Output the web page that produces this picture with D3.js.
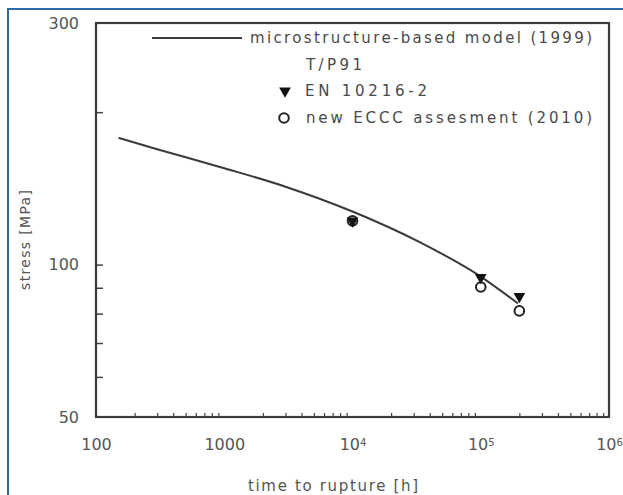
<!DOCTYPE html>
<html>
<head>
<meta charset="utf-8">
<script src="https://cdn.jsdelivr.net/npm/d3@7"></script>
<style>
  body { margin: 0; background: #fff; }
  svg { display: block; }
  text { font-family: "DejaVu Sans", "Liberation Sans", Arial, sans-serif; fill: #4a4a4a; }
</style>
</head>
<body>
<div id="chart"></div>
<script>
// model curve
const modelTime = [150, 300, 1000, 3000, 10000, 34000, 100000, 195000];
const modelStress = [178, 169, 155, 142.5, 127.3, 110.5, 94.7, 83.8];

// EN 10216-2 (filled triangles)
const enTime = [10000, 100000, 200000];
const enStress = [122, 94.3, 86.5];

// new ECCC assesment (open circles)
const ecccTime = [10000, 100000, 200000];
const ecccStress = [122, 90.3, 81];

const xTickValues = [100, 1000, 10000, 100000, 1000000];
const yTickLabels = [50, 100, 300];
const yMinorTicks = [60, 70, 80, 90, 100, 200];

const width = 623, height = 495;
const mLeft = 96, mRight = 609, mTop = 23, mBottom = 417;

const svg = d3.select("#chart").append("svg")
    .attr("width", width)
    .attr("height", height);

// blue frame of the figure box
svg.append("path")
    .attr("d", "M8,495 L8,9 L623,9")
    .attr("fill", "none")
    .attr("stroke", "#2b6fa6")
    .attr("stroke-width", 2);

let x = d3.scaleLog().domain([100, 1e6]).range([mLeft, mRight]);
let y = d3.scaleLog().domain([50, 300]).range([mBottom, mTop]);

// minor x ticks (inside)
let xMinor = [];
for (let dec = 100; dec < 1e6; dec *= 10) {
    for (let k = 2; k <= 9; k++) xMinor.push(dec * k);
}

let xAxis = svg.append("g")
    .attr("transform", "translate(0," + mBottom + ")")
    .call(d3.axisBottom(x).tickValues(xMinor).tickSize(-4).tickFormat(""));
xAxis.select(".domain").remove();
xAxis.selectAll("line").attr("stroke", "#444").attr("stroke-width", 1.2);

let xLabels = svg.append("g")
    .attr("transform", "translate(0," + mBottom + ")")
    .call(d3.axisBottom(x).tickValues(xTickValues).tickSize(0).tickPadding(22)
        .tickFormat(d => d));
xLabels.select(".domain").remove();
xLabels.selectAll("text")
    .style("font-size", "16px")
    .style("fill", "#555")
    .each(function (d) {
        let t = d3.select(this);
        if (d >= 10000) {
            t.text("10");
            t.append("tspan")
                .attr("dy", "-0.45em")
                .style("font-size", "10px")
                .text(Math.round(Math.log10(d)));
        }
    });

let yAxis = svg.append("g")
    .attr("transform", "translate(" + mLeft + ",0)")
    .call(d3.axisLeft(y).tickValues(yMinorTicks).tickSize(-7).tickFormat(""));
yAxis.select(".domain").remove();
yAxis.selectAll("line").attr("stroke", "#444").attr("stroke-width", 1.5);

let yLabels = svg.append("g")
    .attr("transform", "translate(" + mLeft + ",0)")
    .call(d3.axisLeft(y).tickValues(yTickLabels).tickSize(0).tickPadding(17).tickFormat(d => d));
yLabels.select(".domain").remove();
yLabels.selectAll("text")
    .style("font-size", "16px")
    .style("fill", "#555");

// plot frame
svg.append("rect")
    .attr("x", mLeft)
    .attr("y", mTop)
    .attr("width", mRight - mLeft)
    .attr("height", mBottom - mTop)
    .attr("fill", "none")
    .attr("stroke", "#3a3a3a")
    .attr("stroke-width", 2.2);

// axis titles
svg.append("text")
    .attr("x", 333)
    .attr("y", 491)
    .attr("text-anchor", "middle")
    .style("font-size", "15px")
    .style("fill", "#555")
    .attr("textLength", 170)
    .text("time to rupture [h]");

svg.append("text")
    .attr("transform", "translate(30,240) rotate(-90)")
    .attr("text-anchor", "middle")
    .style("font-size", "14px")
    .style("fill", "#555")
    .attr("textLength", 100)
    .text("stress [MPa]");

// model line
let modelData = modelTime.map((t, i) => ({t: t, s: modelStress[i]}));
let line = d3.line()
    .x(d => x(d.t))
    .y(d => y(d.s))
    .curve(d3.curveMonotoneX);

svg.append("path")
    .datum(modelData)
    .attr("d", line)
    .attr("fill", "none")
    .attr("stroke", "#3a3a3a")
    .attr("stroke-width", 2);

// markers
let tri = d3.symbol().type(d3.symbolTriangle).size(60);

let ecccData = ecccTime.map((t, i) => ({t: t, s: ecccStress[i]}));
svg.selectAll(".eccc")
    .data(ecccData)
    .enter()
    .append("circle")
    .attr("class", "eccc")
    .attr("cx", d => x(d.t))
    .attr("cy", d => y(d.s))
    .attr("r", 4.8)
    .attr("fill", "none")
    .attr("stroke", "#222")
    .attr("stroke-width", 2);

let enData = enTime.map((t, i) => ({t: t, s: enStress[i]}));
svg.selectAll(".en")
    .data(enData)
    .enter()
    .append("path")
    .attr("class", "en")
    .attr("d", tri)
    .attr("transform", d => "translate(" + x(d.t) + "," + y(d.s) + ") rotate(180)")
    .attr("fill", "#111");

// legend
let lg = svg.append("g").style("font-size", "15px");

lg.append("line")
    .attr("x1", 152).attr("x2", 242)
    .attr("y1", 38).attr("y2", 38)
    .attr("stroke", "#3a3a3a")
    .attr("stroke-width", 2);
lg.append("text")
    .attr("x", 250).attr("y", 43)
    .attr("textLength", 342)
    .text("microstructure-based model (1999)");

lg.append("text")
    .attr("x", 306).attr("y", 70)
    .attr("textLength", 56)
    .text("T/P91");

lg.append("path")
    .attr("d", tri)
    .attr("transform", "translate(285,91) rotate(180)")
    .attr("fill", "#111");
lg.append("text")
    .attr("x", 305).attr("y", 96)
    .attr("textLength", 122)
    .text("EN 10216-2");

lg.append("circle")
    .attr("cx", 284).attr("cy", 118)
    .attr("r", 4.8)
    .attr("fill", "none")
    .attr("stroke", "#222")
    .attr("stroke-width", 2);
lg.append("text")
    .attr("x", 306).attr("y", 123)
    .attr("textLength", 286)
    .text("new ECCC assesment (2010)");
</script>
</body>
</html>
